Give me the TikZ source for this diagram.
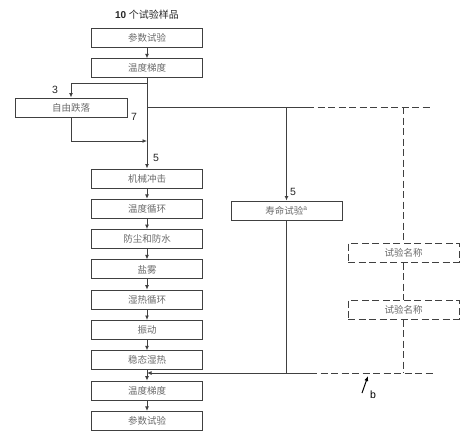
\documentclass[tikz,border=0pt]{standalone}
\usepackage{fontspec}
\setsansfont{Liberation Sans}
\newfontfamily\cjk{Noto Sans CJK SC}
\usetikzlibrary{arrows.meta,positioning}
\definecolor{Ink}{HTML}{404040}
\definecolor{Txt}{HTML}{6A6A6A}
\tikzset{
  box/.style={draw=Ink, line width=1pt, minimum width=111pt, minimum height=19pt,
              inner sep=0pt, font=\cjk\fontsize{9.5}{10}\selectfont, text=Txt},
  dbox/.style={box, dash pattern=on 7pt off 3.5pt},
  arrow/.style={-{Latex[length=4.5pt,width=4pt]}, line width=1pt, draw=Ink},
  wire/.style={line width=1pt, draw=Ink},
  dwire/.style={wire, dash pattern=on 7pt off 3.5pt},
  tag/.style={font=\sffamily\fontsize{10.5}{11}\selectfont, text=black!85, inner sep=1pt},
}
\begin{document}
\begin{tikzpicture}[x=1pt, y=-1pt, node distance=10.3pt]
  \useasboundingbox (0,0) rectangle (468,445);
  \node[tag, font=\sffamily\bfseries\fontsize{10}{11}\selectfont] (title) at (147,15) {10 {\cjk\mdseries 个试验样品}};
  % main column
  \node[box] (p1) at (147,38) {参数试验};
  \node[box, below=of p1] (g1) {温度梯度};
  \node[box] (mech) at (147,178.5) {机械冲击};
  \node[box, below=of mech] (cyc) {温度循环};
  \node[box, below=of cyc] (dust) {防尘和防水};
  \node[box, below=of dust] (salt) {盐雾};
  \node[box, below=of salt] (damp) {湿热循环};
  \node[box, below=of damp] (vib) {振动};
  \node[box, below=of vib] (steady) {稳态湿热};
  \node[box, below=of steady] (g2) {温度梯度};
  \node[box, below=of g2] (p2) {参数试验};
  \foreach \a/\b in {p1/g1, mech/cyc, cyc/dust, dust/salt, salt/damp, damp/vib, vib/steady, steady/g2, g2/p2}
    \draw[arrow] (\a) -- (\b);
  % side branches
  \node[box, minimum width=112pt] (drop) at (71,107.5) {自由跌落};
  \node[box] (life) at (286.5,210.5) {寿命试验\textsuperscript{\sffamily a}};
  \node[dbox] (n1) at (403.5,252.5) {试验名称};
  \node[dbox] (n2) at (403.5,309.5) {试验名称};
  \coordinate (fork) at (147,83);
  \coordinate (split) at (147,107);
  \coordinate (join) at (147,141);
  \coordinate (ret) at (147,373);
  \draw[arrow] (g1.south) -- (mech.north);
  \draw[arrow] (fork) -| (drop.north);
  \draw[arrow] (drop.south) |- (join);
  \coordinate (tap) at (life.north |- split);
  \coordinate (topsolid) at (307,107);
  \coordinate (topend) at (432,107);
  \draw[wire] (split) -- (topsolid);
  \draw[dwire] (topsolid) -- (topend);
  \draw[arrow] (tap) -- (life.north);
  \coordinate (back) at (life.south |- ret);
  \coordinate (botsolid) at (310,373);
  \coordinate (botend) at (433,373);
  \draw[wire] (life.south) -- (back);
  \draw[arrow] (botsolid) -- (ret);
  \draw[dwire] (botsolid) -- (botend);
  \draw[dwire] (n1.north |- split) -- (n1.north);
  \draw[dwire] (n1.south) -- (n2.north);
  \draw[dwire] (n2.south) -- (n2.south |- ret);
  % labels
  \node[tag] (l3) at (55,90) {3};
  \node[tag] (l7) at (134,117) {7};
  \node[tag] (l5a) at (156,158) {5};
  \node[tag] (l5b) at (293,192) {5};
  \coordinate (btip) at (368,376);
  \coordinate (btail) at (362,393);
  \draw[-{Latex[length=5pt,width=4pt]}, line width=1pt, draw=black] (btail) -- (btip);
  \node[tag, text=black, font=\sffamily\fontsize{10.5}{11}\selectfont] (lb) at (373,395) {b};
\end{tikzpicture}
\end{document}
